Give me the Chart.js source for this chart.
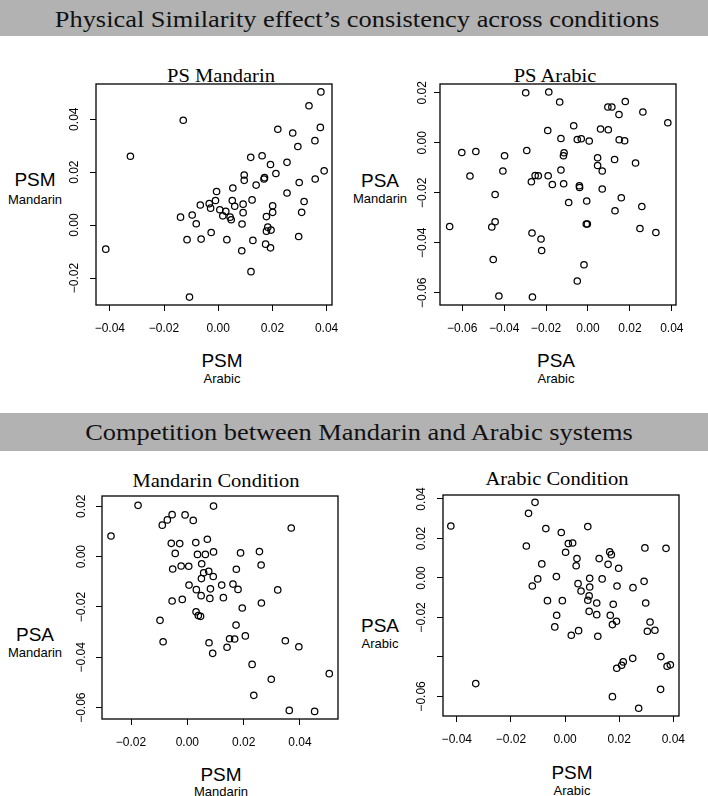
<!DOCTYPE html>
<html><head><meta charset="utf-8">
<script src="https://cdn.jsdelivr.net/npm/chart.js@4/dist/chart.umd.min.js"></script>
<style>
body{margin:0;width:708px;height:796px;background:#fff;position:relative;overflow:hidden;font-family:"Liberation Sans",Arial,sans-serif;color:#000;}
.bar{position:absolute;left:0;width:708px;background:#b2b2b2;}
.hdr{position:absolute;font-family:"Liberation Serif",serif;font-size:24px;line-height:24px;color:#111;white-space:nowrap;transform:translateX(-50%) scaleX(1.1);}
.pt{position:absolute;font-family:"Liberation Serif",serif;font-size:18.5px;line-height:18.5px;white-space:nowrap;transform:translateX(-50%) scaleX(1.11);}
.lab{position:absolute;white-space:nowrap;line-height:1;transform:translate(-50%,-50%);}
.big{font-size:19px}
.small{font-size:13px}
canvas{position:absolute}
</style>
</head>
<body>
<div class="bar" style="top:0;height:36px"></div>
<div class="hdr" style="left:357px;top:7px">Physical Similarity effect’s consistency across conditions</div>
<div class="bar" style="top:413px;height:38px"></div>
<div class="hdr" style="left:359px;top:420px">Competition between Mandarin and Arabic systems</div>

<div class="pt" style="left:221px;top:67px">PS Mandarin</div>
<div class="pt" style="left:555px;top:67px">PS Arabic</div>
<div class="pt" style="left:216px;top:472px">Mandarin Condition</div>
<div class="pt" style="left:557px;top:470px">Arabic Condition</div>

<div class="lab big" style="left:222px;top:360px">PSM</div>
<div class="lab small" style="left:222px;top:378px">Arabic</div>
<div class="lab big" style="left:35px;top:179px">PSM</div>
<div class="lab small" style="left:35px;top:199px">Mandarin</div>

<div class="lab big" style="left:556px;top:360px">PSA</div>
<div class="lab small" style="left:556px;top:378px">Arabic</div>
<div class="lab big" style="left:380px;top:180px">PSA</div>
<div class="lab small" style="left:380px;top:198px">Mandarin</div>

<div class="lab big" style="left:221px;top:774px">PSM</div>
<div class="lab small" style="left:221px;top:791px">Mandarin</div>
<div class="lab big" style="left:35px;top:634px">PSA</div>
<div class="lab small" style="left:35px;top:652px">Mandarin</div>

<div class="lab big" style="left:572px;top:772px">PSM</div>
<div class="lab small" style="left:572px;top:790px">Arabic</div>
<div class="lab big" style="left:380px;top:625px">PSA</div>
<div class="lab small" style="left:380px;top:643px">Arabic</div>

<canvas id="c1"></canvas>
<canvas id="c2"></canvas>
<canvas id="c3"></canvas>
<canvas id="c4"></canvas>

<script>
// ---- Panel 1: PS Mandarin (x = PSM Arabic, y = PSM Mandarin)
const p1X = [0.0379,0.0335,-0.0129,0.0377,0.0220,0.0275,0.0294,0.0357,-0.0324,0.0120,
  0.0162,0.0193,0.0254,0.0391,0.0096,0.0096,0.0171,0.0169,0.0213,0.0140,
  0.0299,0.0358,0.0054,-0.0006,0.0254,-0.0010,0.0052,0.0125,-0.0066,-0.0033,
  -0.0028,0.0061,0.0092,0.0201,0.0317,0.0006,0.0028,0.0017,0.0044,0.0048,
  0.0092,0.0201,0.0308,-0.0139,-0.0096,-0.0081,0.0088,0.0178,-0.0026,0.0183,
  0.0178,0.0195,-0.0115,-0.0063,0.0032,0.0128,0.0297,0.0175,0.0193,0.0087,
  -0.0415,0.0121,-0.0106];
const p1Y = [0.0503,0.0451,0.0396,0.0369,0.0362,0.0348,0.0297,0.0319,0.0260,0.0256,
  0.0262,0.0229,0.0237,0.0205,0.0189,0.0169,0.0179,0.0174,0.0195,0.0151,
  0.0161,0.0174,0.0140,0.0127,0.0121,0.0093,0.0093,0.0095,0.0076,0.0081,
  0.0064,0.0071,0.0079,0.0073,0.0089,0.0058,0.0052,0.0035,0.0030,0.0020,
  0.0047,0.0048,0.0048,0.0030,0.0038,0.0005,0.0004,0.0032,-0.0028,-0.0008,
  -0.0023,-0.0019,-0.0055,-0.0053,-0.0055,-0.0058,-0.0043,-0.0072,-0.0086,-0.0097,
  -0.0091,-0.0176,-0.0272];
const p1XTicks = [-0.04,-0.02,0,0.02,0.04];
const p1XLabels = ['\u22120.04','\u22120.02','0.00','0.02','0.04'];
const p1YTicks = [-0.02,0,0.02,0.04];
const p1YLabels = ['\u22120.02','0.00','0.02','0.04'];

// ---- Panel 2: PS Arabic (x = PSA Arabic, y = PSA Mandarin)
const p2X = [-0.0297,-0.0187,-0.0135,0.0178,0.0095,0.0114,0.0148,0.0262,0.0381,-0.0068,
  -0.0192,0.0060,0.0097,-0.0129,-0.0051,-0.0032,0.0006,0.0149,0.0175,-0.0602,
  -0.0535,-0.0292,-0.0398,-0.0114,-0.0117,0.0046,0.0127,0.0227,0.0046,-0.0563,
  -0.0406,-0.0129,0.0068,-0.0252,-0.0237,-0.0190,-0.0270,-0.0170,-0.0116,-0.0041,
  -0.0040,0.0068,-0.0443,0.0159,-0.0092,-0.0006,0.0257,0.0129,-0.0660,-0.0443,
  -0.0459,-0.0008,-0.0003,0.0248,0.0324,-0.0267,-0.0224,-0.0221,-0.0452,-0.0019,
  -0.0051,-0.0425,-0.0265];
const p2Y = [0.0200,0.0203,0.0163,0.0165,0.0143,0.0143,0.0113,0.0123,0.0080,0.0068,
  0.0049,0.0055,0.0052,0.0017,0.0013,0.0016,0.0007,0.0012,0.0008,-0.0039,
  -0.0035,-0.0031,-0.0052,-0.0040,-0.0052,-0.0060,-0.0067,-0.0081,-0.0091,-0.0133,
  -0.0113,-0.0109,-0.0113,-0.0131,-0.0132,-0.0132,-0.0156,-0.0167,-0.0164,-0.0172,
  -0.0179,-0.0185,-0.0207,-0.0220,-0.0239,-0.0233,-0.0255,-0.0272,-0.0335,-0.0316,
  -0.0337,-0.0325,-0.0325,-0.0343,-0.0359,-0.0361,-0.0385,-0.0431,-0.0467,-0.0488,
  -0.0553,-0.0613,-0.0617];
const p2XTicks = [-0.06,-0.04,-0.02,0,0.02,0.04];
const p2XLabels = ['\u22120.06','\u22120.04','\u22120.02','0.00','0.02','0.04'];
const p2YTicks = [-0.06,-0.04,-0.02,0,0.02];
const p2YLabels = ['\u22120.06','\u22120.04','\u22120.02','0.00','0.02'];

// ---- Panel 3: Mandarin Condition (x = PSM Mandarin, y = PSA Mandarin)
const p3X = [-0.0175,0.0093,-0.0054,-0.0008,-0.0071,-0.0089,0.0021,0.0369,-0.0271,0.0071,
  -0.0057,-0.0027,0.0030,-0.0043,0.0036,0.0064,0.0093,0.0189,0.0256,0.0051,
  -0.0052,-0.0022,0.0005,0.0174,0.0262,0.0058,0.0076,0.0050,0.0092,0.0006,
  0.0032,0.0082,0.0122,0.0162,0.0180,0.0321,0.0049,0.0080,0.0128,-0.0054,
  -0.0018,0.0263,0.0195,0.0031,0.0039,0.0047,-0.0097,0.0173,0.0150,0.0168,
  0.0206,-0.0086,0.0077,0.0348,0.0141,0.0396,0.0090,0.0230,0.0504,0.0298,
  0.0236,0.0362,0.0452];
const p3Y = [0.0204,0.0201,0.0167,0.0166,0.0146,0.0125,0.0144,0.0114,0.0082,0.0069,
  0.0053,0.0052,0.0056,0.0013,0.0009,0.0009,0.0019,0.0015,0.0020,-0.0028,
  -0.0049,-0.0037,-0.0038,-0.0050,-0.0033,-0.0064,-0.0058,-0.0087,-0.0079,-0.0113,
  -0.0131,-0.0128,-0.0113,-0.0109,-0.0130,-0.0132,-0.0155,-0.0166,-0.0163,-0.0176,
  -0.0170,-0.0184,-0.0204,-0.0219,-0.0234,-0.0237,-0.0253,-0.0272,-0.0326,-0.0327,
  -0.0315,-0.0338,-0.0342,-0.0334,-0.0360,-0.0358,-0.0384,-0.0428,-0.0465,-0.0487,
  -0.0551,-0.0611,-0.0615];
const p3XTicks = [-0.02,0,0.02,0.04];
const p3XLabels = ['\u22120.02','0.00','0.02','0.04'];
const p3YTicks = [-0.06,-0.04,-0.02,0,0.02];
const p3YLabels = ['\u22120.06','\u22120.04','\u22120.02','0.00','0.02'];

// ---- Panel 4: Arabic Condition (x = PSM Arabic, y = PSA Arabic)
const p4X = [-0.0111,-0.0135,-0.0422,0.0084,-0.0071,-0.0014,0.0012,0.0028,-0.0143,0.0295,
  0.0373,0.0002,0.0165,0.0171,0.0044,0.0126,-0.0086,0.0041,0.0159,0.0198,
  -0.0032,-0.0101,0.0091,0.0137,-0.0121,0.0048,0.0091,0.0192,0.0251,0.0292,
  0.0059,0.0089,-0.0065,-0.0010,0.0084,0.0117,0.0178,0.0298,0.0089,0.0117,
  -0.0031,0.0167,0.0190,0.0175,0.0314,-0.0038,0.0304,0.0332,0.0050,0.0023,
  0.0121,0.0250,0.0354,0.0215,0.0209,0.0191,0.0377,0.0389,-0.0330,0.0353,
  0.0175,0.0272];
const p4Y = [0.0383,0.0327,0.0263,0.0260,0.0250,0.0230,0.0174,0.0177,0.0162,0.0152,
  0.0150,0.0130,0.0132,0.0118,0.0098,0.0098,0.0071,0.0062,0.0069,0.0049,
  0.0007,-0.0005,-0.0002,-0.0005,-0.0041,-0.0029,-0.0046,-0.0041,-0.0049,-0.0017,
  -0.0066,-0.0091,-0.0115,-0.0115,-0.0113,-0.0127,-0.0133,-0.0127,-0.0169,-0.0186,
  -0.0189,-0.0189,-0.0219,-0.0236,-0.0223,-0.0248,-0.0270,-0.0265,-0.0267,-0.0290,
  -0.0295,-0.0407,-0.0398,-0.0425,-0.0442,-0.0457,-0.0447,-0.0440,-0.0535,-0.0564,
  -0.0601,-0.0660];
const p4XTicks = [-0.04,-0.02,0,0.02,0.04];
const p4XLabels = ['\u22120.04','\u22120.02','0.00','0.02','0.04'];
const p4YTicks = [-0.06,-0.04,-0.02,0,0.02,0.04];
const p4YLabels = ['\u22120.06','','\u22120.02','0.00','0.02','0.04'];

const boxPlugin = {
  id: 'rbox',
  afterDraw(chart) {
    const a = chart.chartArea, ctx = chart.ctx;
    ctx.save();
    ctx.strokeStyle = '#000';
    ctx.lineWidth = 1.3;
    ctx.strokeRect(a.left, a.top, a.right - a.left, a.bottom - a.top);
    ctx.restore();
  }
};

function makePanel(id, box, xr, yr, xs, ys, xT, xL, yT, yL, yPad) {
  const c = document.getElementById(id);
  const [L, T, R, B] = box;
  const W = 44, H = 44, PT = 20, PR = 22;
  c.width = R - L + W + PR;
  c.height = B - T + PT + H;
  c.style.left = (L - W) + 'px';
  c.style.top = (T - PT) + 'px';
  const tickFont = {family: 'Liberation Sans', size: 12};
  new Chart(c, {
    type: 'scatter',
    data: {datasets: [{
      data: xs.map((x, i) => ({x: x, y: ys[i]})),
      pointRadius: 3.2, pointHoverRadius: 3.2, pointBorderWidth: 1.25,
      borderColor: '#000', backgroundColor: 'rgba(0,0,0,0)', pointStyle: 'circle'
    }]},
    options: {
      responsive: false, animation: false, events: [],
      layout: {padding: {left: 0, top: PT, right: PR, bottom: 0}},
      plugins: {legend: {display: false}, tooltip: {enabled: false}, title: {display: false}},
      scales: {
        x: {
          type: 'linear', position: 'bottom', min: xr[0], max: xr[1],
          afterBuildTicks: s => { s.ticks = xT.map(v => ({value: v})); },
          afterFit: s => { s.height = H; },
          grid: {display: true, drawOnChartArea: false, drawTicks: true, tickLength: 6, tickColor: '#000', tickWidth: 1},
          border: {display: false},
          ticks: {color: '#000', font: tickFont, padding: 10, maxRotation: 0, minRotation: 0, autoSkip: false,
                  callback: (v, i) => xL[i]}
        },
        y: {
          type: 'linear', position: 'left', min: yr[0], max: yr[1],
          afterBuildTicks: s => { s.ticks = yT.map(v => ({value: v})); },
          afterFit: s => { s.width = W; },
          grid: {display: true, drawOnChartArea: false, drawTicks: true, tickLength: 6, tickColor: '#000', tickWidth: 1},
          border: {display: false},
          ticks: {color: '#000', font: tickFont, padding: yPad, minRotation: 90, maxRotation: 90, crossAlign: 'center', autoSkip: false,
                  callback: (v, i) => yL[i]}
        }
      }
    },
    plugins: [boxPlugin]
  });
}

makePanel('c1', [96, 84, 332, 305], [-0.0451, 0.0420], [-0.0302, 0.0533], p1X, p1Y, p1XTicks, p1XLabels, p1YTicks, p1YLabels, 0);
makePanel('c2', [440, 84, 676, 305], [-0.0706, 0.0420], [-0.0649, 0.0235], p2X, p2Y, p2XTicks, p2XLabels, p2YTicks, p2YLabels, -4);
makePanel('c3', [102, 496, 338, 719], [-0.0303, 0.0535], [-0.0645, 0.0241], p3X, p3Y, p3XTicks, p3XLabels, p3YTicks, p3YLabels, -1);
makePanel('c4', [443, 495, 679, 716], [-0.0451, 0.0421], [-0.0699, 0.0420], p4X, p4Y, p4XTicks, p4XLabels, p4YTicks, p4YLabels, 0);
</script>
</body></html>
